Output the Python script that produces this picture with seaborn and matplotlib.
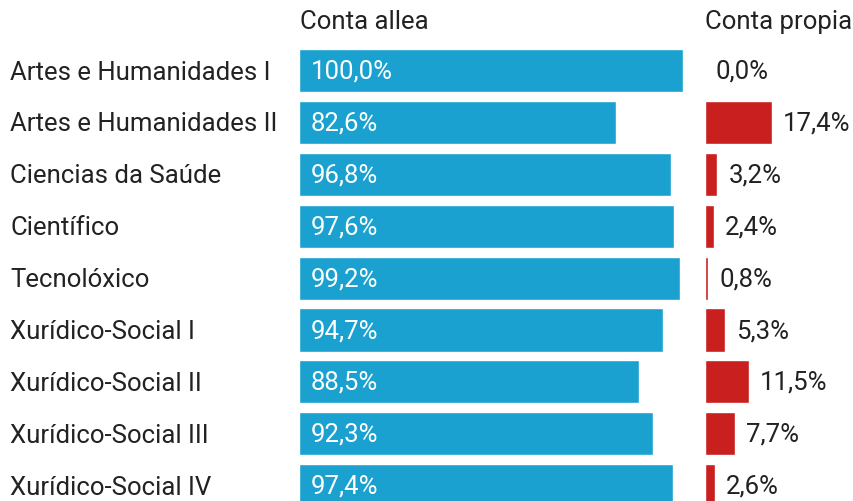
import matplotlib.pyplot as plt
import seaborn as sns
import pandas as pd

# === DATA ===
categories = [
    "Artes e Humanidades I",
    "Artes e Humanidades II",
    "Ciencias da Saúde",
    "Científico",
    "Tecnolóxico",
    "Xurídico-Social I",
    "Xurídico-Social II",
    "Xurídico-Social III",
    "Xurídico-Social IV",
]
conta_allea = [100.0, 82.6, 96.8, 97.6, 99.2, 94.7, 88.5, 92.3, 97.4]
conta_propia = [0.0, 17.4, 3.2, 2.4, 0.8, 5.3, 11.5, 7.7, 2.6]
headers = ["Conta allea", "Conta propia"]

df = pd.DataFrame({"cat": categories, "allea": conta_allea, "propia": conta_propia})

# === STYLE ===
sns.set_theme(style="white")
plt.rcParams["font.family"] = ["Roboto", "DejaVu Sans"]

BLUE = "#1aa1cf"
RED = "#c91f1f"
TEXT = "#222222"
W, H = 854, 502
FS = 18.5

fig = plt.figure(figsize=(W / 100, H / 100), dpi=100)

# pixel layout: row 0 centre at y=71.5, pitch 51.9
row0, pitch = 71.5, 51.9
ylim = ((H - row0) / pitch, -row0 / pitch)
px_per_pct = 384 / 100

ax1 = fig.add_axes([299 / W, 0, 384 / W, 1])
ax2 = fig.add_axes([705 / W, 0, (W - 705) / W, 1])

sns.barplot(data=df, y="cat", x="allea", color=BLUE, saturation=1, width=0.83, ax=ax1)
sns.barplot(data=df, y="cat", x="propia", color=RED, saturation=1, width=0.83, ax=ax2)

ax1.set_xlim(0, 100)
ax2.set_xlim(0, (W - 705) / px_per_pct)
for ax in (ax1, ax2):
    ax.set_ylim(*ylim)
    ax.axis("off")

def fmt(v):
    return f"{v:.1f}%".replace(".", ",")

for i, (cat, a, p) in enumerate(zip(categories, conta_allea, conta_propia)):
    ax1.text(12 / px_per_pct, i, fmt(a), color="white", fontsize=FS,
             va="center", ha="left")
    ax2.text(p + 11 / px_per_pct, i, fmt(p), color=TEXT, fontsize=FS,
             va="center", ha="left")
    y_fig = 1 - (row0 + 1 + pitch * i) / H
    fig.text(10 / W, y_fig, cat, color=TEXT, fontsize=FS, va="center", ha="left")

fig.text(300 / W, 1 - 22 / H, headers[0], color=TEXT, fontsize=FS, va="center", ha="left")
fig.text(705 / W, 1 - 22 / H, headers[1], color=TEXT, fontsize=FS, va="center", ha="left")

fig.savefig("out.png", dpi=100)
plt.close()
